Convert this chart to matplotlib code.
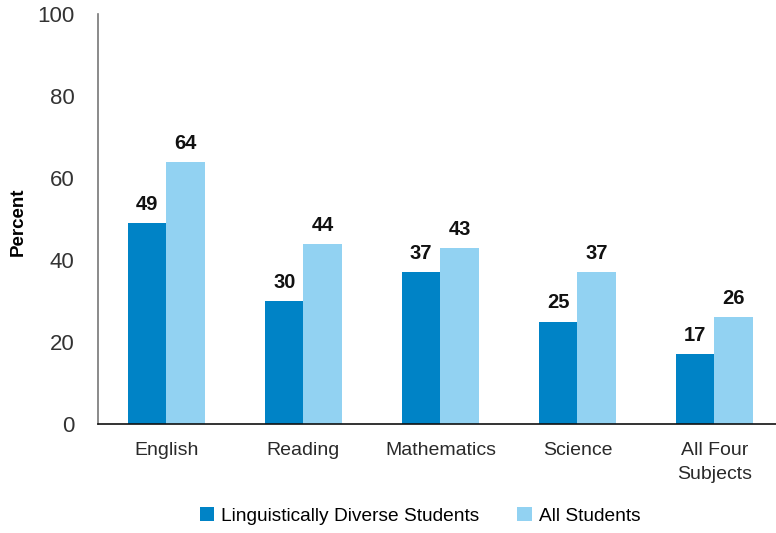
import matplotlib
matplotlib.use("Agg")
import matplotlib.pyplot as plt
import numpy as np

plt.rcParams['font.family'] = ['Liberation Sans', 'DejaVu Sans']

categories = ["English", "Reading", "Mathematics", "Science", "All Four\nSubjects"]
diverse = [49, 30, 37, 25, 17]
all_students = [64, 44, 43, 37, 26]

dark_blue = "#0083c6"
light_blue = "#92d2f2"

fig = plt.figure(figsize=(7.76, 5.33), dpi=100)
ax = fig.add_axes([98 / 776, 1 - 424 / 533, 678 / 776, 410 / 533])

x = np.arange(len(categories))
w = 0.28
b1 = ax.bar(x - w / 2, diverse, w, color=dark_blue, label="Linguistically Diverse Students")
b2 = ax.bar(x + w / 2, all_students, w, color=light_blue, label="All Students")

for bars in (b1, b2):
    for bar in bars:
        h = bar.get_height()
        ax.text(bar.get_x() + bar.get_width() / 2, h + 2.2, f"{h:.0f}",
                ha="center", va="bottom", fontsize=14.5, fontweight="bold", color="#111111")

ax.set_xlim(-0.5, 4.45)
ax.set_ylim(0, 100)
ax.set_yticks([0, 20, 40, 60, 80, 100])
ax.set_xticks(x)
ax.set_xticklabels(categories, fontsize=14, color="#2a2a2a", linespacing=1.5)
ax.tick_params(axis="y", length=0, pad=17, labelsize=16, labelcolor="#333333")
ax.tick_params(axis="x", length=0, pad=13)

ax.spines["top"].set_visible(False)
ax.spines["right"].set_visible(False)
ax.spines["left"].set_color("#777777")
ax.spines["bottom"].set_color("#111111")
ax.spines["left"].set_linewidth(1.2)
ax.spines["bottom"].set_linewidth(1.2)

fig.text(18 / 776, 1 - 222 / 533, "Percent", rotation=90, ha="center", va="center",
         fontsize=13.5, fontweight="bold")

fig.legend(loc="center", bbox_to_anchor=(420 / 776, 1 - 516 / 533), ncol=2, frameon=False,
           fontsize=13.8, handlelength=0.75, handleheight=0.75, handletextpad=0.35,
           columnspacing=2.0)

fig.savefig("out.png", dpi=100)
